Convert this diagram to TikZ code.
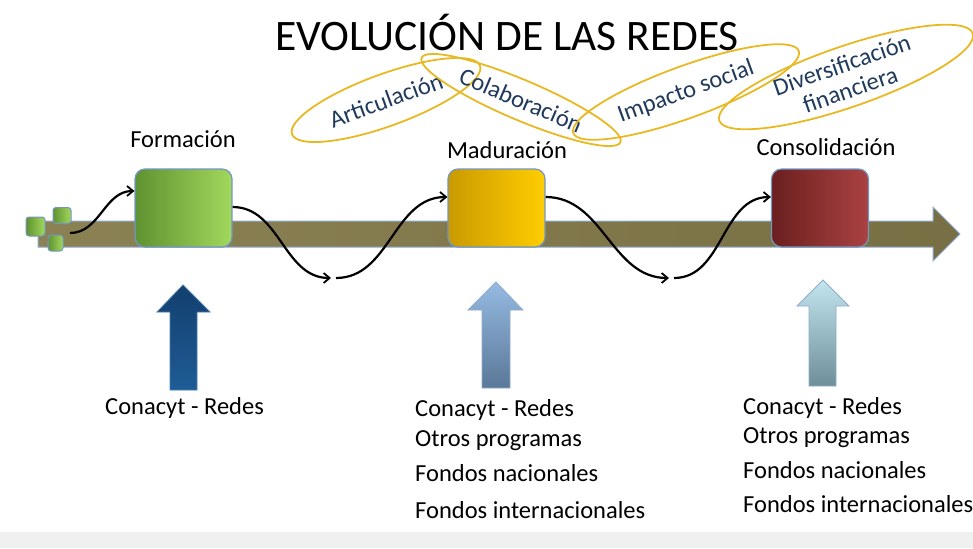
\documentclass[tikz,border=0pt]{standalone}
\usepackage{fontspec}
\setmainfont{Carlito}
\usetikzlibrary{shapes.geometric,arrows.meta}
\definecolor{gold}{HTML}{E8B923}
\definecolor{txtblue}{HTML}{1F3A5C}
\definecolor{band}{HTML}{857B4B}
\definecolor{edgeblue}{HTML}{7396C4}
\definecolor{gL}{HTML}{5F9231}
\definecolor{gR}{HTML}{A2D85C}
\definecolor{yL}{HTML}{C99A00}
\definecolor{yR}{HTML}{FFCD00}
\definecolor{rL}{HTML}{6B1F1F}
\definecolor{rR}{HTML}{AA4242}
\definecolor{bT}{HTML}{123F6E}
\definecolor{bB}{HTML}{1F5C96}
\definecolor{mT}{HTML}{96BAE2}
\definecolor{mB}{HTML}{5A7898}
\definecolor{cT}{HTML}{C2E5EE}
\definecolor{cB}{HTML}{6E8F99}
\tikzset{
  stagebox/.style={draw=edgeblue, line width=1.2pt, rounded corners=10pt, minimum width=97pt, minimum height=78pt, inner sep=0pt},
  sq/.style={draw=edgeblue, line width=1pt, rounded corners=3pt, left color=gL, right color=gR, inner sep=0pt},
  oval/.style={ellipse, draw=gold, line width=1.8pt, text=txtblue, inner sep=0pt, font=\fontsize{24.5}{26}\selectfont},
  flow/.style={black, line width=2.2pt, -{Straight Barb[length=6pt,width=10pt,line width=1.8pt]}},
  stagelbl/.style={font=\fontsize{24.5}{26}\selectfont, text=black},
  fund/.style={anchor=west, font=\fontsize{24.5}{26}\selectfont, text=black, inner sep=0pt},
}
\begin{document}
\begin{tikzpicture}[x=1pt,y=-1pt]
\useasboundingbox (0,0) rectangle (973,548);
\fill[white] (0,0) rectangle (973,548);
\fill[gray!12] (0,532) rectangle (973,548);
% title
\node[font=\fontsize{43.5}{46}\selectfont, text=black] (title) at (507,33) {EVOLUCIÓN DE LAS REDES};
% ovals
\node[oval, minimum width=200pt, minimum height=52pt, rotate=20] (art) at (386,100) {Articulación};
\node[oval, minimum width=216pt, minimum height=40pt, rotate=-23] (col) at (521,100) {Colaboración};
\node[oval, minimum width=240pt, minimum height=52pt, rotate=20] (imp) at (686,92) {Impacto social};
\node[oval, minimum width=268pt, minimum height=60pt, rotate=19, align=center, font=\fontsize{24.5}{26}\selectfont] (div) at (846,77) {Diversificación\\financiera};
% band arrow
\path[left color=band!95!white, right color=band!90!black, draw=edgeblue!80, line width=1pt] (38,221) -- (933,221) -- (933,207) -- (960,234) -- (933,261) -- (933,247) -- (38,247) -- cycle;
% small squares
\node[sq, minimum width=19pt, minimum height=19pt] (s1) at (35.5,226.5) {};
\node[sq, minimum width=18pt, minimum height=16pt] (s2) at (62,215.5) {};
\node[sq, minimum width=15pt, minimum height=16pt] (s3) at (55.5,243) {};
% stage boxes
\node[stagebox, left color=gL, right color=gR] (form) at (183.5,208) {};
\node[stagebox, left color=yL, right color=yR] (mad) at (496.5,208) {};
\node[stagebox, left color=rL, right color=rR] (cons) at (820,208) {};
% stage labels
\node[stagelbl] (lform) at (183,139) {Formación};
\node[stagelbl] (lmad) at (507,150) {Maduración};
\node[stagelbl] (lcons) at (826,147) {Consolidación};
% flow arrows
\coordinate (a0) at (70,233);
\coordinate (a1) at (331,278);
\coordinate (a2) at (336,278);
\coordinate (a3) at (669,278);
\coordinate (a4) at (674,278);
\draw[flow] (a0) to[out=0,in=180] (form.west |- 0,191);
\draw[flow] (form.east |- 0,207) to[out=0,in=180] (a1);
\draw[flow] (a2) to[out=0,in=180] (mad.west |- 0,197);
\draw[flow] (mad.east |- 0,197) to[out=0,in=180] (a3);
\draw[flow] (a4) to[out=0,in=180] (cons.west |- 0,197);
% up arrows
\path[top color=bT, bottom color=bB, draw=bB!80!white, line width=0.8pt] (183,285) -- (210,312) -- (197,312) -- (197,390) -- (170,390) -- (170,312) -- (157,312) -- cycle;
\path[top color=mT, bottom color=mB, draw=edgeblue!80, line width=0.8pt] (496,282) -- (523,310) -- (510,310) -- (510,388) -- (482,388) -- (482,310) -- (468,310) -- cycle;
\path[top color=cT, bottom color=cB, draw=edgeblue!80, line width=0.8pt] (823,280) -- (849,306) -- (836,306) -- (836,386) -- (809,386) -- (809,306) -- (797,306) -- cycle;
% funding labels
\node[fund] (f1) at (105,408) {Conacyt - Redes};
\node[fund] (m1) at (415,410) {Conacyt - Redes};
\node[fund] (m2) at (415,441) {Otros programas};
\node[fund] (m3) at (415,473) {Fondos nacionales};
\node[fund] (m4) at (415,510) {Fondos internacionales};
\node[fund] (r1) at (743,408) {Conacyt - Redes};
\node[fund] (r2) at (743,438) {Otros programas};
\node[fund] (r3) at (743,470) {Fondos nacionales};
\node[fund] (r4) at (743,504) {Fondos internacionales};
\end{tikzpicture}
\end{document}
